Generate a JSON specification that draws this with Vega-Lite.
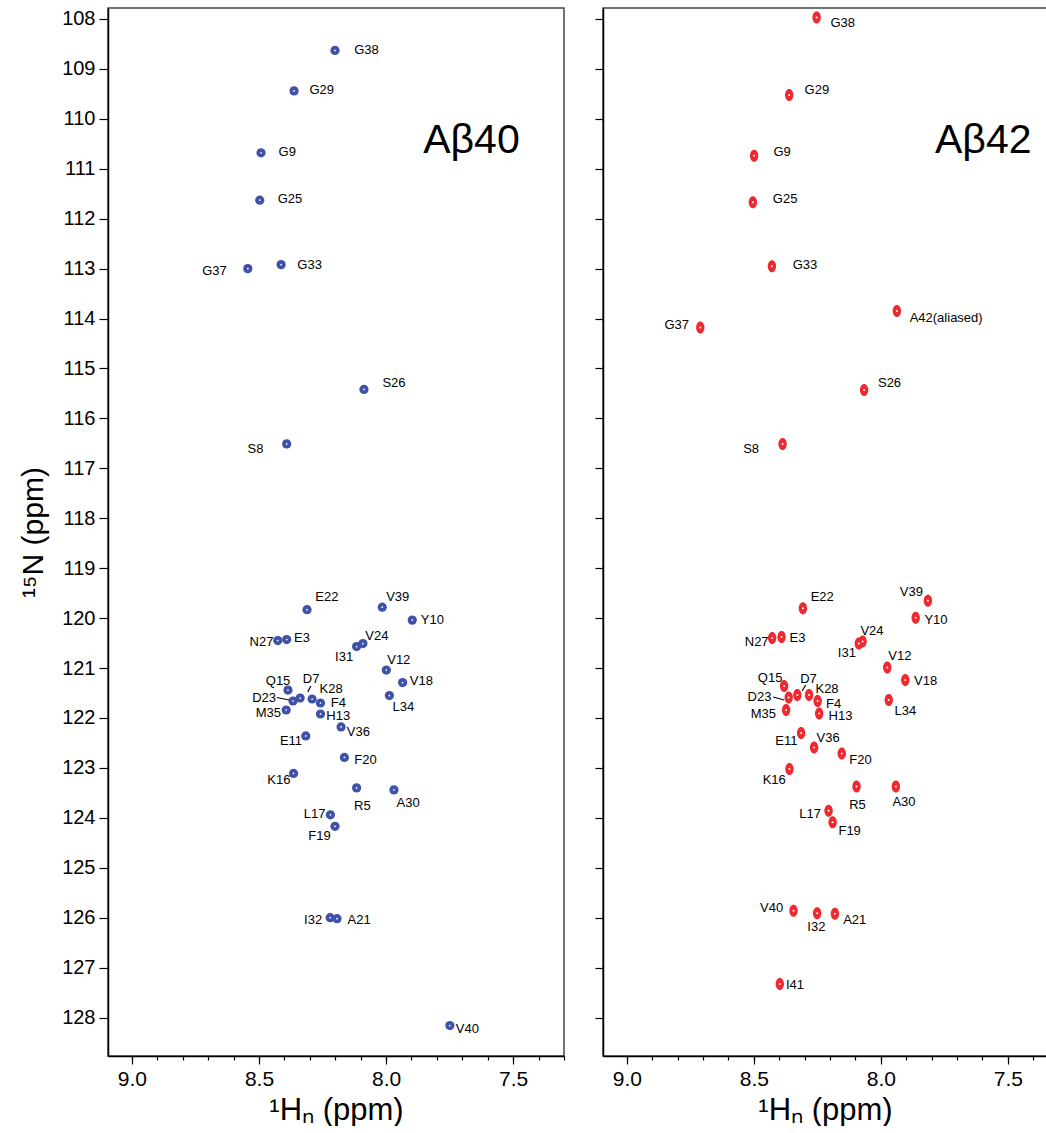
{
  "$schema": "https://vega.github.io/schema/vega-lite/v6.json",
  "padding": {"left": 17, "top": 7, "right": 0, "bottom": 0},
  "background": "white",
  "config": {
    "view": {"stroke": "#444", "strokeWidth": 1.5},
    "font": "Liberation Sans",
    "axis": {"domainColor": "#000", "domainWidth": 1.5, "tickColor": "#000", "tickWidth": 1.2, "grid": false, "labelFont": "Liberation Sans", "titleFont": "Liberation Sans", "labelColor": "#000", "titleColor": "#000", "titleFontWeight": "normal"}
  },
  "datasets": {
    "peaks": [
      {"panel": "Aβ40", "res": "G38", "h": 8.201, "n": 108.63, "lh": 8.077, "ln": 108.63},
      {"panel": "Aβ40", "res": "G29", "h": 8.362, "n": 109.44, "lh": 8.253, "ln": 109.42},
      {"panel": "Aβ40", "res": "G9", "h": 8.492, "n": 110.68, "lh": 8.389, "ln": 110.67},
      {"panel": "Aβ40", "res": "G25", "h": 8.497, "n": 111.63, "lh": 8.378, "ln": 111.61},
      {"panel": "Aβ40", "res": "G37", "h": 8.544, "n": 113.00, "lh": 8.675, "ln": 113.04},
      {"panel": "Aβ40", "res": "G33", "h": 8.413, "n": 112.92, "lh": 8.301, "ln": 112.93},
      {"panel": "Aβ40", "res": "S26", "h": 8.087, "n": 115.42, "lh": 7.969, "ln": 115.29},
      {"panel": "Aβ40", "res": "S8", "h": 8.391, "n": 116.51, "lh": 8.514, "ln": 116.61},
      {"panel": "Aβ40", "res": "E22", "h": 8.311, "n": 119.83, "lh": 8.233, "ln": 119.58},
      {"panel": "Aβ40", "res": "V39", "h": 8.015, "n": 119.78, "lh": 7.954, "ln": 119.58},
      {"panel": "Aβ40", "res": "Y10", "h": 7.897, "n": 120.04, "lh": 7.818, "ln": 120.04},
      {"panel": "Aβ40", "res": "N27", "h": 8.426, "n": 120.45, "lh": 8.490, "ln": 120.48},
      {"panel": "Aβ40", "res": "E3", "h": 8.391, "n": 120.43, "lh": 8.331, "ln": 120.40},
      {"panel": "Aβ40", "res": "I31", "h": 8.116, "n": 120.57, "lh": 8.165, "ln": 120.77},
      {"panel": "Aβ40", "res": "V24", "h": 8.091, "n": 120.51, "lh": 8.036, "ln": 120.36},
      {"panel": "Aβ40", "res": "V12", "h": 7.999, "n": 121.04, "lh": 7.950, "ln": 120.84},
      {"panel": "Aβ40", "res": "V18", "h": 7.935, "n": 121.29, "lh": 7.861, "ln": 121.26},
      {"panel": "Aβ40", "res": "Q15", "h": 8.386, "n": 121.44, "lh": 8.425, "ln": 121.26},
      {"panel": "Aβ40", "res": "D23", "h": 8.366, "n": 121.66, "lh": 8.480, "ln": 121.59},
      {"panel": "Aβ40", "res": "D7", "h": 8.338, "n": 121.60, "lh": 8.295, "ln": 121.22},
      {"panel": "Aβ40", "res": "K28", "h": 8.291, "n": 121.62, "lh": 8.216, "ln": 121.42},
      {"panel": "Aβ40", "res": "F4", "h": 8.258, "n": 121.70, "lh": 8.188, "ln": 121.69},
      {"panel": "Aβ40", "res": "M35", "h": 8.393, "n": 121.84, "lh": 8.463, "ln": 121.90},
      {"panel": "Aβ40", "res": "H13", "h": 8.258, "n": 121.92, "lh": 8.188, "ln": 121.96},
      {"panel": "Aβ40", "res": "V36", "h": 8.177, "n": 122.18, "lh": 8.109, "ln": 122.28},
      {"panel": "Aβ40", "res": "E11", "h": 8.316, "n": 122.36, "lh": 8.374, "ln": 122.46},
      {"panel": "Aβ40", "res": "L34", "h": 7.987, "n": 121.55, "lh": 7.932, "ln": 121.79},
      {"panel": "Aβ40", "res": "F20", "h": 8.164, "n": 122.79, "lh": 8.081, "ln": 122.84},
      {"panel": "Aβ40", "res": "K16", "h": 8.364, "n": 123.11, "lh": 8.422, "ln": 123.24},
      {"panel": "Aβ40", "res": "R5", "h": 8.116, "n": 123.40, "lh": 8.093, "ln": 123.77},
      {"panel": "Aβ40", "res": "A30", "h": 7.969, "n": 123.44, "lh": 7.913, "ln": 123.71},
      {"panel": "Aβ40", "res": "L17", "h": 8.219, "n": 123.94, "lh": 8.281, "ln": 123.92},
      {"panel": "Aβ40", "res": "F19", "h": 8.201, "n": 124.17, "lh": 8.262, "ln": 124.36},
      {"panel": "Aβ40", "res": "I32", "h": 8.220, "n": 126.00, "lh": 8.287, "ln": 126.04},
      {"panel": "Aβ40", "res": "A21", "h": 8.193, "n": 126.02, "lh": 8.106, "ln": 126.04},
      {"panel": "Aβ40", "res": "V40", "h": 7.749, "n": 128.16, "lh": 7.680, "ln": 128.22},
      {"panel": "Aβ42", "res": "G38", "h": 8.253, "n": 107.97, "lh": 8.150, "ln": 108.08},
      {"panel": "Aβ42", "res": "G29", "h": 8.361, "n": 109.52, "lh": 8.252, "ln": 109.42},
      {"panel": "Aβ42", "res": "G9", "h": 8.499, "n": 110.74, "lh": 8.389, "ln": 110.67},
      {"panel": "Aβ42", "res": "G25", "h": 8.504, "n": 111.67, "lh": 8.377, "ln": 111.61},
      {"panel": "Aβ42", "res": "G33", "h": 8.429, "n": 112.95, "lh": 8.299, "ln": 112.93},
      {"panel": "Aβ42", "res": "G37", "h": 8.711, "n": 114.18, "lh": 8.804, "ln": 114.13},
      {"panel": "Aβ42", "res": "A42(aliased)", "h": 7.937, "n": 113.85, "lh": 7.743, "ln": 113.98},
      {"panel": "Aβ42", "res": "S26", "h": 8.066, "n": 115.43, "lh": 7.966, "ln": 115.29},
      {"panel": "Aβ42", "res": "S8", "h": 8.387, "n": 116.51, "lh": 8.511, "ln": 116.61},
      {"panel": "Aβ42", "res": "E22", "h": 8.307, "n": 119.80, "lh": 8.231, "ln": 119.58},
      {"panel": "Aβ42", "res": "V39", "h": 7.815, "n": 119.65, "lh": 7.880, "ln": 119.47},
      {"panel": "Aβ42", "res": "Y10", "h": 7.863, "n": 119.99, "lh": 7.783, "ln": 120.04},
      {"panel": "Aβ42", "res": "N27", "h": 8.428, "n": 120.40, "lh": 8.489, "ln": 120.48},
      {"panel": "Aβ42", "res": "E3", "h": 8.391, "n": 120.38, "lh": 8.328, "ln": 120.40},
      {"panel": "Aβ42", "res": "I31", "h": 8.087, "n": 120.51, "lh": 8.134, "ln": 120.69},
      {"panel": "Aβ42", "res": "V24", "h": 8.072, "n": 120.47, "lh": 8.035, "ln": 120.25},
      {"panel": "Aβ42", "res": "V12", "h": 7.975, "n": 120.99, "lh": 7.925, "ln": 120.75},
      {"panel": "Aβ42", "res": "V18", "h": 7.904, "n": 121.24, "lh": 7.824, "ln": 121.26},
      {"panel": "Aβ42", "res": "Q15", "h": 8.381, "n": 121.36, "lh": 8.436, "ln": 121.20},
      {"panel": "Aβ42", "res": "D23", "h": 8.363, "n": 121.59, "lh": 8.478, "ln": 121.57},
      {"panel": "Aβ42", "res": "D7", "h": 8.329, "n": 121.54, "lh": 8.285, "ln": 121.22},
      {"panel": "Aβ42", "res": "K28", "h": 8.283, "n": 121.54, "lh": 8.212, "ln": 121.42},
      {"panel": "Aβ42", "res": "F4", "h": 8.249, "n": 121.66, "lh": 8.186, "ln": 121.71},
      {"panel": "Aβ42", "res": "M35", "h": 8.373, "n": 121.84, "lh": 8.463, "ln": 121.92},
      {"panel": "Aβ42", "res": "H13", "h": 8.243, "n": 121.91, "lh": 8.159, "ln": 121.97},
      {"panel": "Aβ42", "res": "L34", "h": 7.969, "n": 121.64, "lh": 7.904, "ln": 121.87},
      {"panel": "Aβ42", "res": "E11", "h": 8.314, "n": 122.30, "lh": 8.372, "ln": 122.47},
      {"panel": "Aβ42", "res": "V36", "h": 8.263, "n": 122.59, "lh": 8.208, "ln": 122.40},
      {"panel": "Aβ42", "res": "F20", "h": 8.154, "n": 122.71, "lh": 8.080, "ln": 122.84},
      {"panel": "Aβ42", "res": "K16", "h": 8.360, "n": 123.02, "lh": 8.420, "ln": 123.24},
      {"panel": "Aβ42", "res": "R5", "h": 8.096, "n": 123.37, "lh": 8.092, "ln": 123.74},
      {"panel": "Aβ42", "res": "A30", "h": 7.941, "n": 123.37, "lh": 7.909, "ln": 123.68},
      {"panel": "Aβ42", "res": "L17", "h": 8.206, "n": 123.86, "lh": 8.279, "ln": 123.92},
      {"panel": "Aβ42", "res": "F19", "h": 8.190, "n": 124.09, "lh": 8.123, "ln": 124.27},
      {"panel": "Aβ42", "res": "V40", "h": 8.344, "n": 125.86, "lh": 8.430, "ln": 125.81},
      {"panel": "Aβ42", "res": "I32", "h": 8.251, "n": 125.91, "lh": 8.254, "ln": 126.18},
      {"panel": "Aβ42", "res": "A21", "h": 8.181, "n": 125.92, "lh": 8.103, "ln": 126.04},
      {"panel": "Aβ42", "res": "I41", "h": 8.398, "n": 127.33, "lh": 8.338, "ln": 127.34}
    ],
    "leaders": [
      {"panel": "Aβ40", "h1": 8.430, "n1": 121.59, "h2": 8.382, "n2": 121.64},
      {"panel": "Aβ40", "h1": 8.296, "n1": 121.36, "h2": 8.308, "n2": 121.48},
      {"panel": "Aβ42", "h1": 8.424, "n1": 121.58, "h2": 8.381, "n2": 121.64},
      {"panel": "Aβ42", "h1": 8.296, "n1": 121.34, "h2": 8.310, "n2": 121.46}
    ],
    "titles": [
      {"panel": "Aβ40", "h": 7.854, "n": 110.68},
      {"panel": "Aβ42", "h": 7.787, "n": 110.68}
    ]
  },
  "hconcat": [
    {
      "width": 456,
      "height": 1048,
      "resolve": {"axis": {"x": "independent"}},
      "layer": [
        {
          "data": {"name": "peaks"},
          "transform": [{"filter": "datum.panel === 'Aβ40'"}],
          "mark": {"type": "point", "filled": true, "shape": "circle", "size": 85, "color": "#3f51a8", "opacity": 1},
          "encoding": {
            "x": {"field": "h", "type": "quantitative", "scale": {"domain": [9.094, 7.30], "nice": false, "zero": false},
              "axis": {"values": [9.0, 8.5, 8.0, 7.5], "format": ".1f", "tickSize": 8, "labelFontSize": 21, "labelPadding": 4, "title": "¹Hₙ (ppm)", "titleFontSize": 31, "titlePadding": 6, "orient": "bottom"}},
            "y": {"field": "n", "type": "quantitative", "scale": {"domain": [107.78, 128.77], "nice": false, "zero": false, "reverse": true},
              "axis": {"values": [108, 109, 110, 111, 112, 113, 114, 115, 116, 117, 118, 119, 120, 121, 122, 123, 124, 125, 126, 127, 128], "tickSize": 9, "labelFontSize": 20, "labelPadding": 4, "title": "¹⁵N (ppm)", "titleFontSize": 30, "titlePadding": 13}}
          }
        },
        {
          "data": {"name": "peaks"},
          "transform": [{"filter": "datum.panel === 'Aβ40'"}],
          "mark": {"type": "point", "filled": true, "shape": "circle", "size": 3, "color": "#ffffff", "opacity": 1},
          "encoding": {
            "x": {"field": "h", "type": "quantitative",
              "axis": {"values": [9.0, 8.9, 8.8, 8.7, 8.6, 8.5, 8.4, 8.3, 8.2, 8.1, 8.0, 7.9, 7.8, 7.7, 7.6, 7.5, 7.4, 7.3], "tickSize": 4, "labels": false, "domain": false, "title": null, "orient": "bottom"}},
            "y": {"field": "n", "type": "quantitative"}
          }
        },
        {
          "data": {"name": "leaders"},
          "transform": [{"filter": "datum.panel === 'Aβ40'"}],
          "mark": {"type": "rule", "color": "#000", "strokeWidth": 1.2},
          "encoding": {
            "x": {"field": "h1", "type": "quantitative", "axis": null},
            "y": {"field": "n1", "type": "quantitative"},
            "x2": {"field": "h2"},
            "y2": {"field": "n2"}
          }
        },
        {
          "data": {"name": "peaks"},
          "transform": [{"filter": "datum.panel === 'Aβ40'"}],
          "mark": {"type": "text", "fontSize": 13, "font": "Liberation Sans", "color": "#000", "align": "center", "baseline": "middle"},
          "encoding": {
            "x": {"field": "lh", "type": "quantitative", "axis": null},
            "y": {"field": "ln", "type": "quantitative"},
            "text": {"field": "res"}
          }
        },
        {
          "data": {"name": "titles"},
          "transform": [{"filter": "datum.panel === 'Aβ40'"}],
          "mark": {"type": "text", "fontSize": 41, "font": "Liberation Sans", "color": "#000", "align": "left", "baseline": "alphabetic"},
          "encoding": {
            "x": {"field": "h", "type": "quantitative", "axis": null},
            "y": {"field": "n", "type": "quantitative"},
            "text": {"field": "panel"}
          }
        }
      ]
    },
    {
      "width": 444,
      "height": 1048,
      "resolve": {"axis": {"x": "independent"}},
      "layer": [
        {
          "data": {"name": "peaks"},
          "transform": [{"filter": "datum.panel === 'Aβ42'"}],
          "mark": {"type": "point", "filled": true, "shape": "M0,-1C0.39,-1,0.7,-0.55,0.7,0C0.7,0.55,0.39,1,0,1C-0.39,1,-0.7,0.55,-0.7,0C-0.7,-0.55,-0.39,-1,0,-1Z", "size": 144, "color": "#ee2a30", "opacity": 1},
          "encoding": {
            "x": {"field": "h", "type": "quantitative", "scale": {"domain": [9.094, 7.346], "nice": false, "zero": false},
              "axis": {"values": [9.0, 8.5, 8.0, 7.5], "format": ".1f", "tickSize": 8, "labelFontSize": 21, "labelPadding": 4, "title": "¹Hₙ (ppm)", "titleFontSize": 31, "titlePadding": 6, "orient": "bottom"}},
            "y": {"field": "n", "type": "quantitative", "scale": {"domain": [107.78, 128.77], "nice": false, "zero": false, "reverse": true},
              "axis": {"values": [108, 109, 110, 111, 112, 113, 114, 115, 116, 117, 118, 119, 120, 121, 122, 123, 124, 125, 126, 127, 128], "tickSize": 8, "labels": false, "title": null}}
          }
        },
        {
          "data": {"name": "peaks"},
          "transform": [{"filter": "datum.panel === 'Aβ42'"}],
          "mark": {"type": "point", "filled": true, "shape": "circle", "size": 4, "color": "#ffffff", "opacity": 1},
          "encoding": {
            "x": {"field": "h", "type": "quantitative",
              "axis": {"values": [9.0, 8.9, 8.8, 8.7, 8.6, 8.5, 8.4, 8.3, 8.2, 8.1, 8.0, 7.9, 7.8, 7.7, 7.6, 7.5, 7.4], "tickSize": 4, "labels": false, "domain": false, "title": null, "orient": "bottom"}},
            "y": {"field": "n", "type": "quantitative"}
          }
        },
        {
          "data": {"name": "leaders"},
          "transform": [{"filter": "datum.panel === 'Aβ42'"}],
          "mark": {"type": "rule", "color": "#000", "strokeWidth": 1.2},
          "encoding": {
            "x": {"field": "h1", "type": "quantitative", "axis": null},
            "y": {"field": "n1", "type": "quantitative"},
            "x2": {"field": "h2"},
            "y2": {"field": "n2"}
          }
        },
        {
          "data": {"name": "peaks"},
          "transform": [{"filter": "datum.panel === 'Aβ42'"}],
          "mark": {"type": "text", "fontSize": 13, "font": "Liberation Sans", "color": "#000", "align": "center", "baseline": "middle"},
          "encoding": {
            "x": {"field": "lh", "type": "quantitative", "axis": null},
            "y": {"field": "ln", "type": "quantitative"},
            "text": {"field": "res"}
          }
        },
        {
          "data": {"name": "titles"},
          "transform": [{"filter": "datum.panel === 'Aβ42'"}],
          "mark": {"type": "text", "fontSize": 41, "font": "Liberation Sans", "color": "#000", "align": "left", "baseline": "alphabetic"},
          "encoding": {
            "x": {"field": "h", "type": "quantitative", "axis": null},
            "y": {"field": "n", "type": "quantitative"},
            "text": {"field": "panel"}
          }
        }
      ]
    }
  ],
  "spacing": 39,
  "bounds": "flush"
}
